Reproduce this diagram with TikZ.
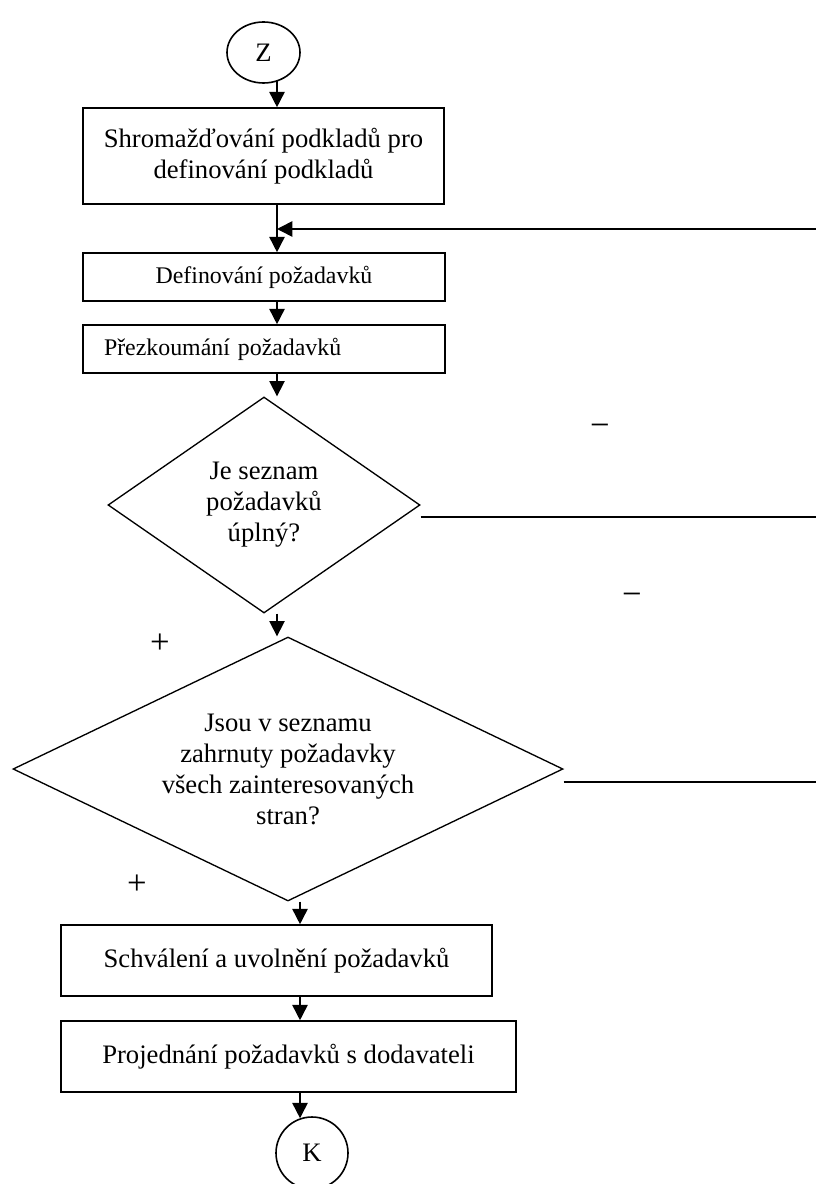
\documentclass[tikz,border=0pt]{standalone}
\usepackage{fontspec}
\setmainfont{Liberation Serif}
\usetikzlibrary{shapes.geometric,arrows.meta}

\newcommand*{\pxu}{0.75pt}
\newcommand*{\colA}{277}
\newcommand*{\colB}{300}
\newcommand*{\xEdge}{818}
\newcommand*{\velky}{\fontsize{20}{23.25}\selectfont}
\newcommand*{\mensi}{\fontsize{17.9}{21}\selectfont}

\begin{document}
\begin{tikzpicture}[x=\pxu, y=-\pxu,
    krok/.style={draw, line width=1.2pt, rectangle, inner sep=0pt, align=center, font=\velky},
    otazka/.style={draw, line width=1pt, diamond, inner sep=0pt, align=center, font=\velky},
    koncovy/.style={draw, line width=1.2pt, ellipse, inner sep=0pt, font=\velky},
    znak/.style={inner sep=0pt, font=\fontsize{26}{30}\selectfont},
    sipka/.style={-{Triangle[length=11.5pt,width=11.5pt]}, line width=1.2pt},
    cara/.style={line width=1.2pt}
]
\path[use as bounding box, fill=white] (0,0) rectangle (816,1184);

% bloky
\node[koncovy, minimum width=73*\pxu, minimum height=61*\pxu] (start) at (263.5,52.5) {Z};
\node[krok, minimum width=361*\pxu, minimum height=96*\pxu] (shrom) at (263.5,156)
    {Shromažďování podkladů pro\\definování podkladů};
\node[krok, font=\mensi, minimum width=362*\pxu, minimum height=48*\pxu] (defin) at (264,277)
    {Definování požadavků};
\node[krok, font=\mensi, text width=240pt, inner xsep=15.75pt, align=left,
    minimum height=48*\pxu] (prezk) at (264,349) {Přezkoumání požadavků};
\node[otazka, shape aspect=1.44, minimum width=312*\pxu, minimum height=216*\pxu] (uplny)
    at (264,505) {Je seznam\\požadavků\\úplný?};
\node[otazka, shape aspect=2.08, minimum width=550*\pxu, minimum height=264*\pxu] (strany)
    at (288,769) {Jsou v seznamu\\zahrnuty požadavky\\všech zainteresovaných\\stran?};
\node[krok, minimum width=431*\pxu, minimum height=71*\pxu] (schval) at (276.5,960.5)
    {Schválení a uvolnění požadavků};
\node[krok, minimum width=455*\pxu, minimum height=71*\pxu] (projed) at (288.5,1056.5)
    {Projednání požadavků s dodavateli};
\node[koncovy, minimum width=72*\pxu, minimum height=72*\pxu] (konec) at (312,1153) {K};

% znamenka
\node[znak] (minusA) at (600,430) {−};
\node[znak] (minusB) at (632,599) {−};
\node[znak] (plusA) at (160,644) {+};
\node[znak] (plusB) at (137,885) {+};

% spojnice
\coordinate (colA) at (\colA,0);
\coordinate (colB) at (\colB,0);
\coordinate (fbA) at (\xEdge,229);
\coordinate (fbB) at (\xEdge,517);
\coordinate (fbC) at (\xEdge,782);

\draw[sipka] (start.-64 -| colA) -- (shrom.north -| colA);
\draw[sipka] (shrom.south -| colA) -- (defin.north -| colA);
\draw[sipka] (fbA) -- (fbA -| colA);
\draw[sipka] (defin.south -| colA) -- (prezk.north -| colA);
\draw[sipka] (prezk.south -| colA) -- (uplny.north -| colA);
\draw[sipka] (uplny.south -| colA) -- (strany.north -| colA);
\draw[cara] (uplny.east |- fbB) -- (fbB);
\draw[cara] (strany.east |- fbC) -- (fbC);
\draw[sipka] (strany.south -| colB) -- (schval.north -| colB);
\draw[sipka] (schval.south -| colB) -- (projed.north -| colB);
\draw[sipka] (projed.south -| colB) -- (konec.109.5);

\end{tikzpicture}
\end{document}
